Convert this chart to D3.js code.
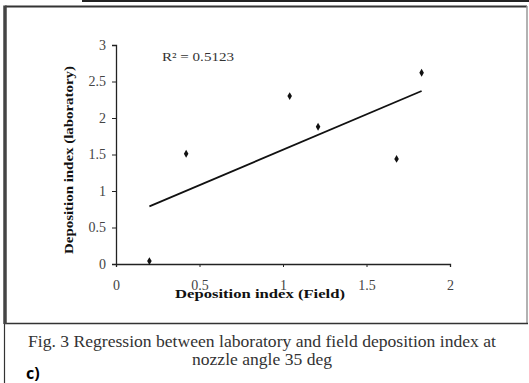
<!DOCTYPE html>
<html>
<head>
<meta charset="utf-8">
<script src="https://cdn.jsdelivr.net/npm/d3@7"></script>
<style>
  body { margin: 0; background: #fff; }
  svg { display: block; }
</style>
</head>
<body>
<div id="chart"></div>
<script>
// data gelezen van de figuur
const fieldIndex = [0.20, 0.42, 1.04, 1.21, 1.68, 1.83]
const labIndex = [0.04, 1.51, 2.30, 1.88, 1.44, 2.62]
const trendX = [0.20, 1.83]
const trendY = [0.79, 2.37]
const xTicks = [0, 0.5, 1, 1.5, 2]
const yTicks = [0, 0.5, 1, 1.5, 2, 2.5, 3]
const rSquared = 'R² = 0.5123'
const captionLines = ['Fig. 3 Regression between laboratory and field deposition index at', 'nozzle angle 35 deg']
const captionWidths = [468, 140]

const serif = "'Liberation Serif', 'Times New Roman', serif"

const width = 529
const height = 383
const margin = { top: 45, right: 79, bottom: 119, left: 116 }
const innerWidth = width - margin.left - margin.right
const innerHeight = height - margin.top - margin.bottom

const svg = d3.select('#chart').append('svg')
    .attr('width', width)
    .attr('height', height)

// rand en kader
svg.append('line').attr('x1', 82).attr('x2', 529).attr('y1', 1).attr('y2', 1)
    .attr('stroke', '#222').attr('stroke-width', 2)
svg.append('line').attr('x1', 5).attr('x2', 527).attr('y1', 6.5).attr('y2', 6.5)
    .attr('stroke', '#333').attr('stroke-width', 2)
svg.append('line').attr('x1', 527).attr('x2', 527).attr('y1', 6).attr('y2', 323.5)
    .attr('stroke', '#999').attr('stroke-width', 1.5)
svg.append('line').attr('x1', 5).attr('x2', 528).attr('y1', 323.5).attr('y2', 323.5)
    .attr('stroke', '#333').attr('stroke-width', 1.5)
svg.append('line').attr('x1', 5).attr('x2', 5).attr('y1', 5.5).attr('y2', 324)
    .attr('stroke', '#444').attr('stroke-width', 3.5)
svg.append('line').attr('x1', 4.5).attr('x2', 4.5).attr('y1', 324).attr('y2', 383)
    .attr('stroke', '#333').attr('stroke-width', 1.2)

const g = svg.append('g')
    .attr('transform', `translate(${margin.left}, ${margin.top})`)

const xScale = d3.scaleLinear().domain([0, 2]).range([0, innerWidth])
const yScale = d3.scaleLinear().domain([0, 3]).range([innerHeight, 0])

// x as
const xAxis = g.append('g')
    .attr('transform', `translate(0, ${innerHeight})`)
    .call(d3.axisBottom(xScale).tickValues(xTicks).tickSize(3).tickFormat(d3.format('')))
xAxis.select('.domain').attr('stroke', '#222').attr('stroke-width', 1.3)
xAxis.selectAll('line').attr('stroke', '#222')
xAxis.selectAll('text')
    .attr('font-family', serif)
    .attr('font-size', 14).attr('fill', '#444').attr('dy', '1.45em')

// y as
const yAxis = g.append('g')
    .call(d3.axisLeft(yScale).tickValues(yTicks).tickSize(4).tickFormat(d3.format('')))
yAxis.select('.domain').attr('stroke', '#222').attr('stroke-width', 1.3)
yAxis.selectAll('line').attr('stroke', '#222')
yAxis.selectAll('text')
    .attr('font-family', serif)
    .attr('font-size', 14).attr('fill', '#444').attr('x', -10)

// as titels
g.append('text')
    .attr('x', 260 - margin.left)
    .attr('y', innerHeight + 34)
    .attr('text-anchor', 'middle')
    .attr('font-family', serif)
    .attr('font-weight', 'bold').attr('font-size', 13).attr('fill', '#111')
    .attr('textLength', 170).attr('lengthAdjust', 'spacingAndGlyphs')
    .text('Deposition index (Field)')

g.append('text')
    .attr('transform', `translate(-43, ${160 - margin.top}) rotate(-90)`)
    .attr('text-anchor', 'middle')
    .attr('font-family', serif)
    .attr('font-weight', 'bold').attr('font-size', 13).attr('fill', '#111')
    .attr('textLength', 188).attr('lengthAdjust', 'spacingAndGlyphs')
    .text('Deposition index (laboratory)')

// trendlijn
const trend = trendX.map((x, i) => [x, trendY[i]])
g.append('path')
    .datum(trend)
    .attr('d', d3.line().x(d => xScale(d[0])).y(d => yScale(d[1])))
    .attr('stroke', '#111').attr('stroke-width', 1.8).attr('fill', 'none')

// punten
const points = fieldIndex.map((x, i) => ({ x, y: labIndex[i] }))
g.selectAll('.pt')
    .data(points)
    .enter()
    .append('path')
    .attr('class', 'pt')
    .attr('transform', d => `translate(${xScale(d.x)}, ${yScale(d.y)})`)
    .attr('d', d3.symbol(d3.symbolDiamond, 18))
    .attr('fill', '#111')

// R kwadraat
g.append('text')
    .attr('x', 162 - margin.left).attr('y', 61 - margin.top)
    .attr('font-family', serif)
    .attr('font-size', 13).attr('fill', '#333')
    .attr('textLength', 72).attr('lengthAdjust', 'spacingAndGlyphs')
    .text(rSquared)

// onderschrift
svg.selectAll('.caption')
    .data(captionLines)
    .enter()
    .append('text')
    .attr('class', 'caption')
    .attr('x', 262)
    .attr('y', (d, i) => 347 + i * 18)
    .attr('text-anchor', 'middle')
    .attr('font-family', serif)
    .attr('font-size', 17).attr('fill', '#333')
    .attr('textLength', (d, i) => captionWidths[i]).attr('lengthAdjust', 'spacingAndGlyphs')
    .text(d => d)

svg.append('text')
    .attr('x', 26).attr('y', 379)
    .attr('font-family', "'Open Sans', 'DejaVu Sans', sans-serif")
    .attr('font-weight', 'bold').attr('font-size', 16).attr('fill', '#000')
    .text('c)')
</script>
</body>
</html>
